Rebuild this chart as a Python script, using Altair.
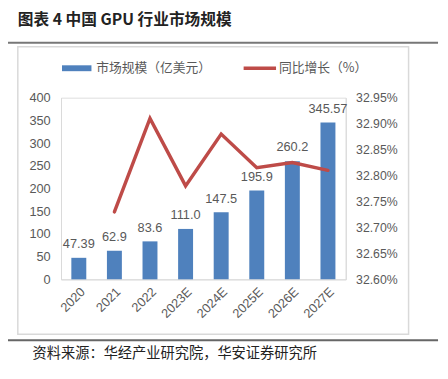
import altair as alt
import pandas as pd

years = ["2020", "2021", "2022", "2023E", "2024E", "2025E", "2026E", "2027E"]
market = [47.39, 62.9, 83.6, 111.0, 147.5, 195.9, 260.2, 345.57]
market_labels = ["47.39", "62.9", "83.6", "111.0", "147.5", "195.9", "260.2", "345.57"]
growth = [None, 32.73, 32.91, 32.78, 32.88, 32.815, 32.825, 32.81]
left_ticks = [0, 50, 100, 150, 200, 250, 300, 350, 400]
right_ticks = [32.60, 32.65, 32.70, 32.75, 32.80, 32.85, 32.90, 32.95]

title_text = "图表 4 中国 GPU 行业市场规模"
source_text = "资料来源：华经产业研究院，华安证券研究所"
legend_bar = "市场规模（亿美元）"
legend_line = "同比增长（%）"

BLUE = "#4F81BD"
RED = "#BE4B48"
GRAY = "#595959"
LIGHT = "#D9D9D9"
FONT = "Liberation Sans"
CJK = "Noto Sans CJK SC"

df = pd.DataFrame({"year": years, "market": market, "label": market_labels, "growth": growth})
one = pd.DataFrame({"a": [0]})

W, H = 290, 185

xscale = alt.Scale(paddingInner=0.58, paddingOuter=0.29)
xaxis = alt.Axis(labelAngle=-45, ticks=False, domainColor=LIGHT,
                 labelColor=GRAY, labelFont=FONT, labelFontSize=13,
                 labelPadding=6, labelOverlap=False)
xenc = alt.X("year:N", sort=years, title=None, scale=xscale, axis=xaxis)
yscale = alt.Scale(domain=[0, 400], nice=False)
yaxis = alt.Axis(values=left_ticks, grid=False, ticks=False,
                 domainColor=LIGHT, labelColor=GRAY, labelFont=FONT,
                 labelFontSize=13, labelPadding=11, labelOverlap=False)
yenc = alt.Y("market:Q", title=None, scale=yscale, axis=yaxis)

bars = alt.Chart(df).mark_bar(color=BLUE).encode(x=xenc, y=yenc)
bar_text = alt.Chart(df).mark_text(baseline="bottom", dy=-7, font=FONT, fontSize=13,
                                   color=GRAY).encode(x=xenc, y=yenc, text="label:N")
left = alt.layer(bars, bar_text)

line = alt.Chart(df.dropna()).mark_line(color=RED, strokeWidth=3.5, strokeCap="round",
                                        strokeJoin="miter").encode(
    x=xenc,
    y=alt.Y("growth:Q", title=None,
            scale=alt.Scale(domain=[32.60, 32.95], nice=False, zero=False),
            axis=alt.Axis(orient="right", values=right_ticks,
                          labelExpr="format(datum.value, '.2f') + '%'",
                          grid=False, ticks=False, domainColor=LIGHT,
                          labelColor=GRAY, labelFont=FONT, labelFontSize=12.5,
                          labelPadding=10, labelOverlap=False)),
)

frame = alt.Chart(one).mark_rect(fill="transparent", stroke=LIGHT, strokeWidth=1.5).encode(
    x=alt.value(-44), x2=alt.value(354), y=alt.value(-52), y2=alt.value(241))
top_rule = alt.Chart(one).mark_rule(color="#777777", strokeWidth=2).encode(
    x=alt.value(-54), x2=alt.value(384), y=alt.value(-56))
bot_rule = alt.Chart(one).mark_rule(color="#666666", strokeWidth=2).encode(
    x=alt.value(-54), x2=alt.value(384), y=alt.value(247))
title = alt.Chart(one).mark_text(text=title_text, align="left", baseline="middle",
                                 font=CJK, fontSize=16, fontWeight="bold",
                                 color="#222222").encode(x=alt.value(-44), y=alt.value(-79))
source = alt.Chart(one).mark_text(text=source_text, align="left", baseline="middle",
                                  font=CJK, fontSize=14.5, color="#222222").encode(
    x=alt.value(-29), y=alt.value(261))
leg_rect = alt.Chart(one).mark_rect(color=BLUE).encode(
    x=alt.value(1), x2=alt.value(31), y=alt.value(-33), y2=alt.value(-27))
leg_t1 = alt.Chart(one).mark_text(text=legend_bar, align="left", baseline="middle",
                                  font=CJK, fontSize=13, color=GRAY).encode(
    x=alt.value(36), y=alt.value(-30))
leg_line = alt.Chart(one).mark_rule(color=RED, strokeWidth=3.5).encode(
    x=alt.value(186), x2=alt.value(219), y=alt.value(-30))
leg_t2 = alt.Chart(one).mark_text(text=legend_line, align="left", baseline="middle",
                                  font=CJK, fontSize=13, color=GRAY).encode(
    x=alt.value(222), y=alt.value(-30))

chart = alt.layer(
    frame, top_rule, bot_rule, title, source, leg_rect, leg_t1, leg_line, leg_t2,
    left, line,
).resolve_scale(y="independent").properties(
    width=W, height=H,
    autosize=alt.AutoSizeParams(type="none"),
    padding={"left": 54, "top": 88, "right": 96, "bottom": 90},
).configure_view(stroke=None).configure(background="white")

chart.save("out.html", embed_options={"renderer": "svg", "actions": False})
